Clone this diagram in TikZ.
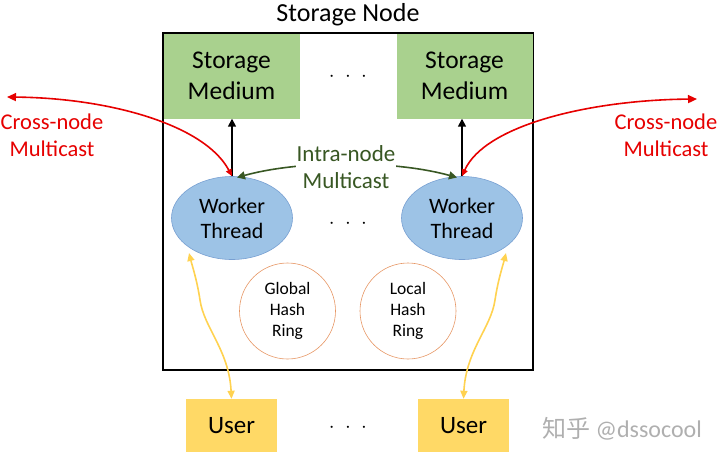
\documentclass[tikz,border=0pt]{standalone}
\usepackage{fontspec}
\setmainfont{Carlito}
\newfontfamily\cjkfont{Noto Sans CJK SC}
\usetikzlibrary{shapes.geometric,arrows.meta}
\definecolor{smgreen}{RGB}{169,209,142}
\definecolor{wtblue}{RGB}{157,195,230}
\definecolor{wtborder}{RGB}{120,160,210}
\definecolor{usery}{RGB}{255,217,102}
\definecolor{arrowy}{RGB}{255,210,80}
\definecolor{ringor}{RGB}{230,150,100}
\definecolor{dkgreen}{RGB}{56,87,35}
\definecolor{cred}{RGB}{230,0,0}
\definecolor{wm}{RGB}{175,175,175}
\tikzset{
  smbox/.style={fill=smgreen, minimum width=136pt, minimum height=85pt, align=center, font=\fontsize{25.5}{31}\selectfont, inner sep=0pt},
  wtell/.style={ellipse, fill=wtblue, draw=wtborder, line width=0.6pt, minimum width=121pt, minimum height=83pt, align=center, font=\fontsize{22}{25}\selectfont, inner sep=0pt},
  ring/.style={circle, draw=ringor, line width=0.6pt, minimum size=96pt, align=center, font=\fontsize{17.5}{21}\selectfont, inner sep=0pt},
  userbox/.style={fill=usery, minimum width=91pt, minimum height=53pt, font=\fontsize{25}{28}\selectfont, inner sep=0pt},
  redlbl/.style={text=cred, align=center, font=\fontsize{22.5}{27}\selectfont},
  dotsl/.style={font=\fontsize{22}{26}\selectfont},
  redarr/.style={draw=cred, line width=1.6pt, {Triangle[length=9pt,width=8pt]}-{Triangle[length=7pt,width=6pt]}},
  blkarr/.style={draw=black, line width=1.6pt, -{Triangle[length=8pt,width=8pt]}},
  grnarr/.style={draw=dkgreen, line width=1.6pt, {Triangle[length=8pt,width=8pt]}-{Triangle[length=8pt,width=8pt]}},
  yelarr/.style={draw=arrowy, line width=1.6pt, {Triangle[length=8pt,width=7pt]}-{Triangle[length=8pt,width=7pt]}},
}
\begin{document}
\begin{tikzpicture}[x=1pt,y=-1pt]
\useasboundingbox (0,0) rectangle (720,459);
% outer storage node box
\node[draw=black, line width=2.6pt, minimum width=370pt, minimum height=337pt, inner sep=0pt] (nodebox) at (348,201.5) {};
\node[font=\fontsize{26}{30}\selectfont] (title) at (348,15) {Storage Node};
% storage media
\node[smbox] (sm1) at (231.5,76) {Storage\\Medium};
\node[smbox] (sm2) at (464.5,76) {Storage\\Medium};
\node[dotsl] (dots1) at (348,77) {$\cdot\;\cdot\;\cdot$};
% worker threads
\node[wtell] (wt1) at (232,218) {Worker\\Thread};
\node[wtell] (wt2) at (462,218) {Worker\\Thread};
\node[dotsl] (dots2) at (348,224) {$\cdot\;\cdot\;\cdot$};
% hash rings
\node[ring] (ghr) at (287.5,311) {Global\\Hash\\Ring};
\node[ring] (lhr) at (408,311) {Local\\Hash\\Ring};
% users
\node[userbox] (u1) at (231.5,425.5) {User};
\node[userbox] (u2) at (463.5,425.5) {User};
\node[dotsl] (dots3) at (348,428) {$\cdot\;\cdot\;\cdot$};
% watermark
\node[text=wm, font=\fontsize{24}{28}\selectfont] (wmark) at (622,429) {{\cjkfont 知乎} @dssocool};
% red labels
\node[redlbl] (cnl) at (52,135) {Cross-node\\Multicast};
\node[redlbl] (cnr) at (666,135) {Cross-node\\Multicast};
\coordinate (redl) at (7,97);
\coordinate (redr) at (697,99);
% black arrows
\draw[blkarr] (wt1.north) -- (sm1.south -| wt1.north);
\draw[blkarr] (wt2.north) -- (sm2.south -| wt2.north);
% intra-node multicast
\coordinate (gl) at (237,177.5);
\coordinate (gr) at (457,177.5);
\draw[grnarr] (gl) .. controls (300,160) and (394,160) .. (gr);
\node[fill=white, text=dkgreen, align=center, font=\fontsize{23}{27}\selectfont, inner sep=1pt] (intra) at (346,167) {Intra-node\\Multicast};
% red cross-node arrows
\draw[redarr] (redl) .. controls (110,98) and (205,125) .. (wt1.north);
\draw[redarr] (redr) .. controls (590,100) and (485,125) .. (wt2.north);
% yellow user arrows
\coordinate (yl) at (189,253);
\coordinate (yr) at (506,253);
\draw[yelarr] (u1.north) .. controls (229,350) and (204,328) .. (200,300) .. controls (197,280) and (192,265) .. (yl);
\draw[yelarr] (u2.north) .. controls (466,350) and (491,328) .. (495,300) .. controls (498,280) and (503,265) .. (yr);
\end{tikzpicture}
\end{document}
